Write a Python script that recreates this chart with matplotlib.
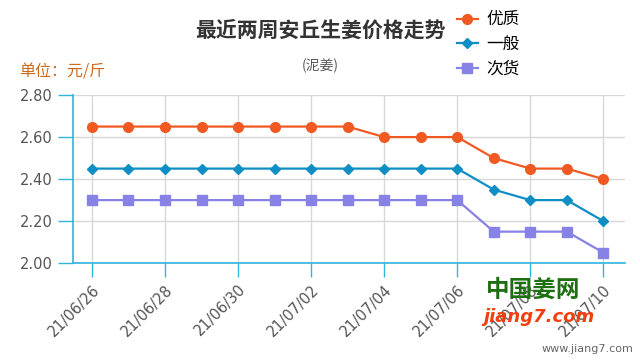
import matplotlib.pyplot as plt
from matplotlib.lines import Line2D

plt.rcParams['font.family'] = ['Noto Sans CJK SC', 'DejaVu Sans']

dates = ['21/06/26', '21/06/27', '21/06/28', '21/06/29', '21/06/30', '21/07/01', '21/07/02',
         '21/07/03', '21/07/04', '21/07/05', '21/07/06', '21/07/07', '21/07/08', '21/07/09',
         '21/07/10']
youzhi = [2.65, 2.65, 2.65, 2.65, 2.65, 2.65, 2.65, 2.65, 2.60, 2.60, 2.60, 2.50, 2.45, 2.45, 2.40]
yiban = [2.45, 2.45, 2.45, 2.45, 2.45, 2.45, 2.45, 2.45, 2.45, 2.45, 2.45, 2.35, 2.30, 2.30, 2.20]
cihuo = [2.30, 2.30, 2.30, 2.30, 2.30, 2.30, 2.30, 2.30, 2.30, 2.30, 2.30, 2.15, 2.15, 2.15, 2.05]
yticks = [2.00, 2.20, 2.40, 2.60, 2.80]

c_you = '#f05a22'
c_yi = '#0e8ec4'
c_ci = '#8682e6'
c_axis = '#30b4e0'

fig = plt.figure(figsize=(6.4, 3.6), dpi=100)
ax = fig.add_axes([0.114, 0.269, 0.863, 0.467])

x = list(range(len(dates)))
ax.plot(x, youzhi, color=c_you, lw=1.6, marker='o', ms=7, zorder=3)
ax.plot(x, yiban, color=c_yi, lw=1.6, marker='D', ms=5, zorder=3)
ax.plot(x, cihuo, color=c_ci, lw=1.6, marker='s', ms=7, zorder=3)

ax.set_xlim(-0.52, 14.6)
ax.set_ylim(2.0, 2.8)
ax.set_yticks(yticks)
ax.set_yticklabels([f'{v:.2f}' for v in yticks], color='#555555', fontsize=10.5,
                   family='DejaVu Sans')
ax.set_xticks(x[::2])
ax.set_xticklabels(dates[::2], rotation=45, ha='right', rotation_mode='anchor',
                   color='#555555', fontsize=10.5, family='DejaVu Sans')
ax.tick_params(axis='y', length=11, color=c_axis, width=1)
ax.tick_params(axis='x', length=10, color=c_axis, width=1)

ax.grid(True, color='#d8d8d8', lw=1)
ax.set_axisbelow(True)
for s in ['top', 'right']:
    ax.spines[s].set_visible(False)
for s in ['left', 'bottom']:
    ax.spines[s].set_color(c_axis)
    ax.spines[s].set_linewidth(1.2)

fig.text(0.50, 0.915, '最近两周安丘生姜价格走势', ha='center', va='center',
         fontsize=15, fontweight='bold', color='#333333')
fig.text(0.50, 0.818, '(泥姜)', ha='center', va='center', fontsize=10, color='#555555')
fig.text(0.03, 0.80, '单位：元/斤', ha='left', va='center', fontsize=11.5, color='#cc6a1a')

handles = [
    Line2D([], [], color=c_you, lw=1.6, marker='o', ms=7),
    Line2D([], [], color=c_yi, lw=1.6, marker='D', ms=5),
    Line2D([], [], color=c_ci, lw=1.6, marker='s', ms=7),
]
fig.legend(handles, ['优质', '一般', '次货'], loc='upper left', bbox_to_anchor=(0.69, 1.01),
           frameon=False, fontsize=12, handlelength=1.3, handletextpad=0.5,
           labelspacing=0.45)

# watermark
fig.text(0.76, 0.195, '中国姜网', ha='left', va='center', fontsize=17,
         fontweight='bold', color='#1e6e12')
fig.text(0.755, 0.12, 'jiang7.com', ha='left', va='center', fontsize=13,
         fontweight='bold', style='italic', color='#f04010', family='DejaVu Sans')
fig.text(0.99, 0.03, 'www.jiang7.com', ha='right', va='center', fontsize=8, color='#666666',
         family='DejaVu Sans')

fig.savefig('out.png', dpi=100, facecolor='white')
